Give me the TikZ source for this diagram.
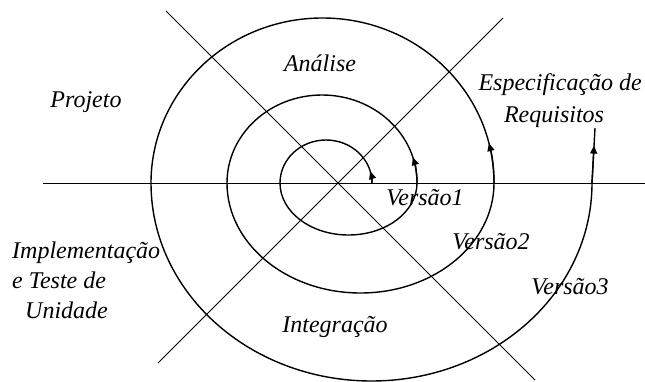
\documentclass[tikz,border=0pt]{standalone}
\usepackage{fontspec}
\setmainfont{Liberation Serif}
\usepackage{tikz}
\usetikzlibrary{arrows.meta, positioning, calc}

\begin{document}
\begin{tikzpicture}[
    x=1pt, y=1pt,
    eixo/.style={line width=0.9pt, black},
    espiral/.style={line width=1.4pt, black},
    seta/.style={line width=1.4pt, -{Triangle[length=8pt, width=7pt]}},
    fase/.style={font=\fontsize{24}{30}\selectfont\itshape, inner sep=0pt},
  ]
    \useasboundingbox (0,0) rectangle (645,381);

    % eixos
    \coordinate (o)  at (338,198);
    \coordinate (w)  at (43,198);
    \coordinate (e)  at (645,198);
    \coordinate (nw) at (166,370);
    \coordinate (se) at (535,1);
    \coordinate (ne) at (503,363);
    \coordinate (sw) at (158,18);
    \draw[eixo] (w) -- (e);
    \draw[eixo] (nw) -- (se);
    \draw[eixo] (ne) -- (sw);

    % espiral
    \coordinate (v1)  at (372,198);
    \coordinate (v2)  at (417,198);
    \coordinate (v3)  at (494,198);
    \coordinate (v4)  at (592,198);
    \coordinate (req) at (595,253);
    \draw[espiral] (v1)
      arc[start angle=0,   end angle=180, x radius=46,    y radius=43]
      arc[start angle=180, end angle=360, x radius=68.5,  y radius=52]
      arc[start angle=0,   end angle=180, x radius=95,    y radius=88]
      arc[start angle=180, end angle=360, x radius=133.5, y radius=110]
      arc[start angle=0,   end angle=180, x radius=171.5, y radius=165]
      arc[start angle=180, end angle=360, x radius=220.5, y radius=198]
      -- (req);
    \draw[seta] (v1) arc[start angle=0, end angle=16, x radius=46, y radius=43];
    \draw[seta] (v2) arc[start angle=0, end angle=17, x radius=95, y radius=88];
    \draw[seta] (v3) arc[start angle=0, end angle=14, x radius=171.5, y radius=165];
    \draw[seta] (v4) -- ($(v4)!0.68!(req)$);

    % fases
    \node[fase] (analise) at (320,318) {Análise};
    \node[fase] (projeto) at (86,279)  {Projeto};
    \node[fase, anchor=east] (espec) at (642,296) {Especificação de};
    \node[fase] (requisitos) at (554,264) {Requisitos};
    \node[fase, align=left, anchor=west] (impl) at (12,101)
      {Implementação\\e Teste de\\\hspace*{13pt}Unidade};
    \node[fase] (integracao) at (335,54) {Integração};

    % versoes
    \node[fase] (ver1) at (425,183) {Versão1};
    \node[fase] (ver2) at (491,139) {Versão2};
    \node[fase] (ver3) at (570,94)  {Versão3};
  \end{tikzpicture}
\end{document}
